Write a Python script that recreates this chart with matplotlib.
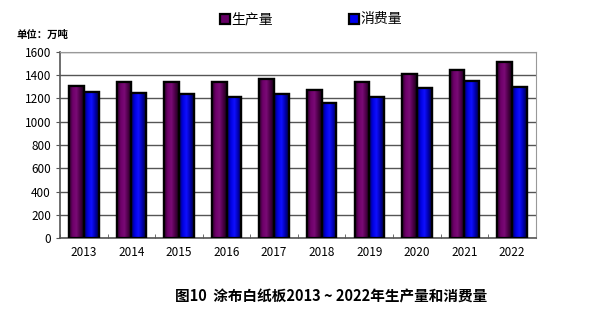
import numpy as np
import matplotlib.pyplot as plt
from matplotlib.colors import LinearSegmentedColormap

plt.rcParams['font.family'] = ['Noto Sans CJK SC', 'DejaVu Sans']

years = ['2013', '2014', '2015', '2016', '2017', '2018', '2019', '2020', '2021', '2022']
production = [1310, 1340, 1340, 1340, 1370, 1275, 1345, 1410, 1445, 1510]
consumption = [1260, 1250, 1240, 1210, 1240, 1160, 1215, 1290, 1350, 1295]

fig = plt.figure(figsize=(5.98, 3.33), dpi=100)
ax = fig.add_axes([0.1003, 0.285, 0.7957, 0.559])

x = np.arange(len(years))
w = 0.31

cm_prod = LinearSegmentedColormap.from_list('p', ['#2a0028', '#6e006a', '#7a0a76', '#4a0046', '#1a0018'])
cm_cons = LinearSegmentedColormap.from_list('c', ['#000060', '#0000e0', '#1010ff', '#0000b0', '#000040'])

def shaded_bars(xs, vals, cmap, label, color):
	bars = ax.bar(xs, vals, w, color=color, edgecolor='black', linewidth=1.6, label=label, zorder=3)
	grad = np.linspace(0, 1, 64).reshape(1, -1)
	for b in bars:
		x0, y0 = b.get_x(), b.get_y()
		im = ax.imshow(grad, cmap=cmap, aspect='auto', zorder=3.5,
			extent=[x0, x0 + b.get_width(), y0, y0 + b.get_height()])
		im.set_clip_path(b)
		# redraw outline above the shading
		ax.bar(x0, b.get_height(), w, align='edge', fill=False, edgecolor='black', linewidth=1.6, zorder=4)
	return bars

shaded_bars(x - w/2, production, cm_prod, '生产量', '#660066')
shaded_bars(x + w/2, consumption, cm_cons, '消费量', '#0000ee')

ax.set_xlim(-0.5, len(years) - 0.5)
ax.set_ylim(0, 1600)
ax.set_yticks(range(0, 1601, 200))
ax.set_xticks(x)
ax.set_xticklabels(years)
ax.set_xticks(np.arange(-0.5, len(years)), minor=True)
ax.tick_params(axis='x', which='major', length=0, labelsize=8.5, pad=6)
ax.tick_params(axis='x', which='minor', length=3, direction='in', color='#555555')
ax.tick_params(axis='y', length=3, direction='out', labelsize=8.5, color='#555555')
ax.yaxis.grid(True, color='#555555', linewidth=1.0, zorder=0)
ax.set_axisbelow(True)
for s in ['top', 'right']:
	ax.spines[s].set_color('#999999')
for s in ['left', 'bottom']:
	ax.spines[s].set_color('#555555')
	ax.spines[s].set_linewidth(1.2)

fig.text(0.028, 0.885, '单位：万吨', fontsize=7.5, fontweight='bold')
fig.legend(loc='upper center', bbox_to_anchor=(0.52, 1.0), ncol=2, frameon=False,
	fontsize=10, handlelength=0.7, handleheight=0.7, handletextpad=0.1, columnspacing=5.5)
fig.text(0.554, 0.095, '图10  涂布白纸板2013 ~ 2022年生产量和消费量', fontsize=10.5,
	fontweight='bold', ha='center')

fig.savefig('out.png', dpi=100)
